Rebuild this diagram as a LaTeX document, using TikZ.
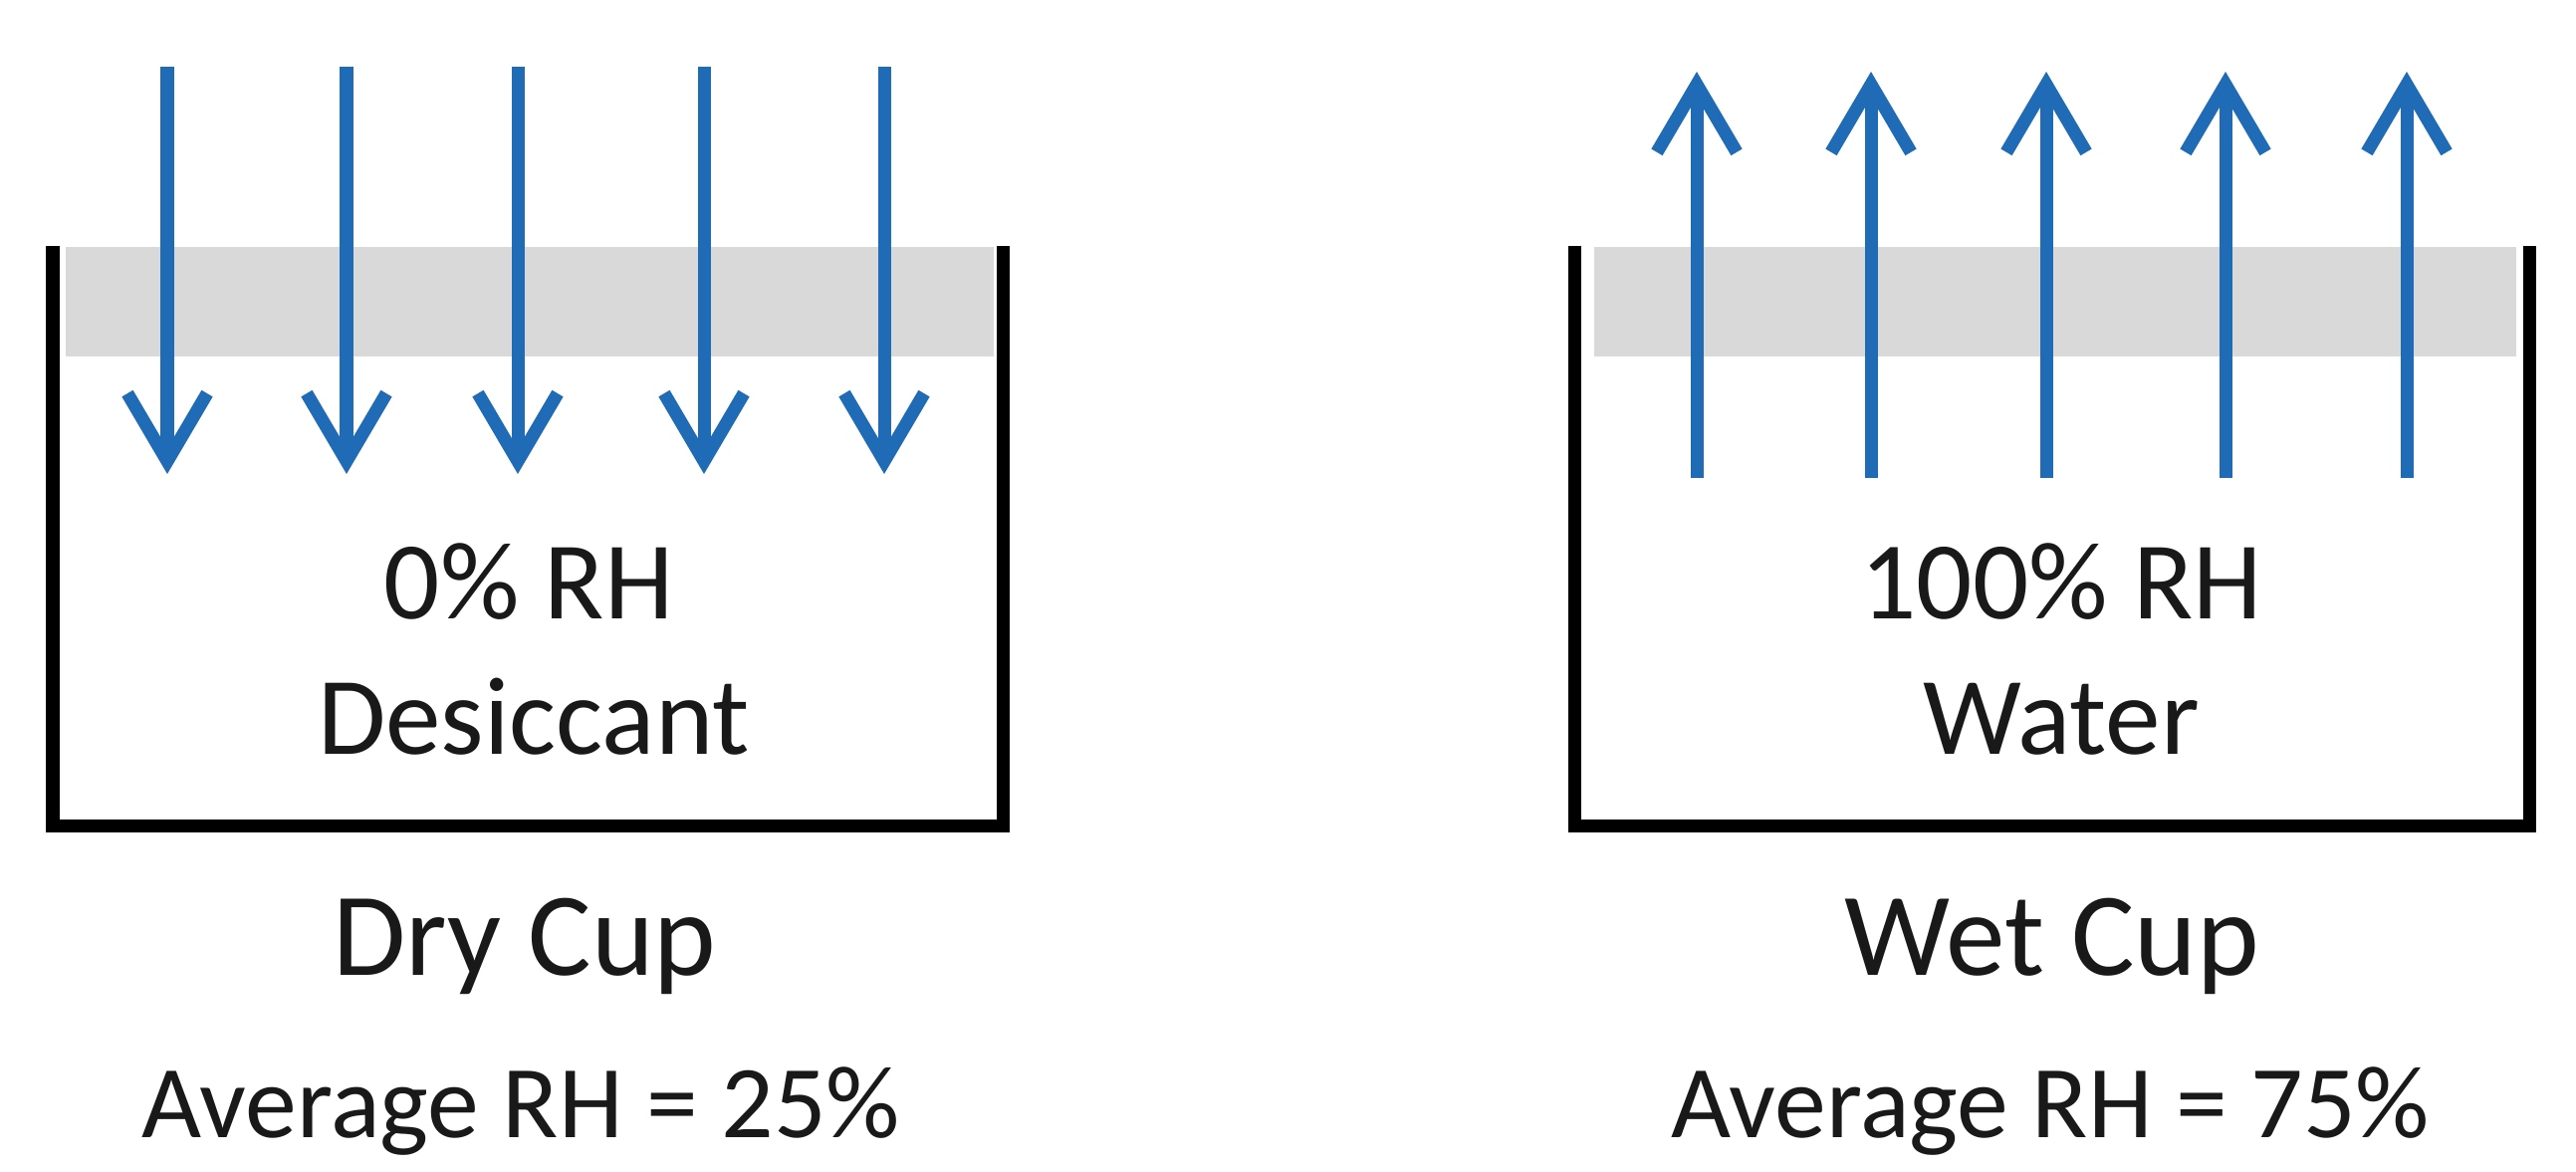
\documentclass[tikz,border=0pt]{standalone}
\usepackage{fontspec}
\setmainfont{Carlito}
\usetikzlibrary{arrows.meta}
\definecolor{flow}{RGB}{31,107,181}
\definecolor{band}{RGB}{217,217,217}
\definecolor{ink}{RGB}{25,25,25}
\begin{document}
\begin{tikzpicture}[x=0.01cm,y=-0.01cm,
  wall/.style={draw=black, line width=0.13cm, line join=miter},
  membrane/.style={fill=band, draw=none},
  flowarrow/.style={draw=flow, line width=0.13cm, -{Straight Barb[length=0.68cm,width=0.8cm]}},
  cuptext/.style={font=\fontsize{31.6}{38}\selectfont, text=ink, anchor=base, inner sep=0pt},
  cuptitle/.style={font=\fontsize{33.9}{40}\selectfont, text=ink, anchor=base, inner sep=0pt},
  avgtext/.style={font=\fontsize{29.5}{36}\selectfont, text=ink, anchor=base, inner sep=0pt}]
\useasboundingbox[fill=white] (0,0) rectangle (2587,1177);

% ---------- Dry cup ----------
\fill[membrane] (66,248) rectangle (998,358);
\coordinate (dTL) at (53,247);
\coordinate (dBL) at (53,830);
\coordinate (dBR) at (1007,830);
\coordinate (dTR) at (1007,247);
\draw[wall] (dTL) -- (dBL) -- (dBR) -- (dTR);
\foreach \i/\x in {1/168,2/348,3/520,4/707,5/888}{
  \coordinate (ds\i) at (\x,67);
  \coordinate (de\i) at (\x,476);
  \draw[flowarrow] (ds\i) -- (de\i);
}
\node[cuptext] (dry1) at (531,622) {0\% RH};
\node[cuptext] (dry2) at (536,758) {Desiccant};
\node[cuptitle] (drytitle) at (527,980) {Dry Cup};
\node[avgtext] (dryavg) at (523,1143) {Average RH = 25\%};

% ---------- Wet cup ----------
\fill[membrane] (1601,248) rectangle (2527,358);
\coordinate (wTL) at (1581,247);
\coordinate (wBL) at (1581,830);
\coordinate (wBR) at (2540,830);
\coordinate (wTR) at (2540,247);
\draw[wall] (wTL) -- (wBL) -- (wBR) -- (wTR);
\foreach \i/\x in {1/1704,2/1879,3/2055,4/2235,5/2417}{
  \coordinate (ws\i) at (\x,480);
  \coordinate (we\i) at (\x,72);
  \draw[flowarrow] (ws\i) -- (we\i);
}
\node[cuptext] (wet1) at (2070,622) {100\% RH};
\node[cuptext] (wet2) at (2070,758) {Water};
\node[cuptitle] (wettitle) at (2061,980) {Wet Cup};
\node[avgtext] (wetavg) at (2059,1143) {Average RH = 75\%};
\end{tikzpicture}
\end{document}
